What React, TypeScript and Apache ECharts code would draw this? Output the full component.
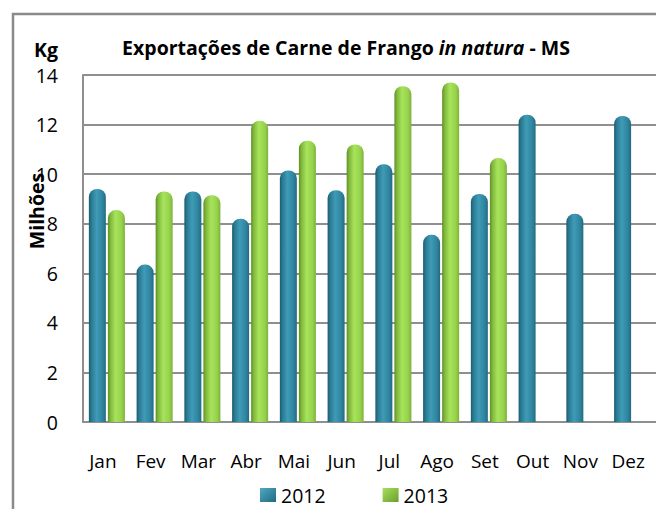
import React, { useEffect, useRef } from "react";
import * as echarts from "echarts";

const categories = ["Jan", "Fev", "Mar", "Abr", "Mai", "Jun", "Jul", "Ago", "Set", "Out", "Nov", "Dez"];
const values2012 = [9.4, 6.35, 9.3, 8.2, 10.15, 9.35, 10.4, 7.55, 9.2, 12.4, 8.4, 12.35];
const values2013: (number | null)[] = [8.55, 9.3, 9.15, 12.15, 11.35, 11.2, 13.55, 13.7, 10.65, null, null, null];
const yTicks = [0, 2, 4, 6, 8, 10, 12, 14];

const FONT = "'Open Sans', 'Noto Sans', sans-serif";

const tealGrad = new echarts.graphic.LinearGradient(0, 0, 1, 0, [
  { offset: 0, color: "#1b5b6f" },
  { offset: 0.15, color: "#2a7a93" },
  { offset: 0.45, color: "#3f9bb6" },
  { offset: 0.8, color: "#2f85a0" },
  { offset: 1, color: "#236a80" },
]);
const greenGrad = new echarts.graphic.LinearGradient(0, 0, 1, 0, [
  { offset: 0, color: "#5f8f25" },
  { offset: 0.15, color: "#80b83c" },
  { offset: 0.45, color: "#a8e35c" },
  { offset: 0.8, color: "#97d24c" },
  { offset: 1, color: "#7cb23a" },
]);
const tealIcon = new echarts.graphic.LinearGradient(0, 0, 1, 1, [
  { offset: 0, color: "#4fa9c4" },
  { offset: 1, color: "#1f6a80" },
]);
const greenIcon = new echarts.graphic.LinearGradient(0, 0, 1, 1, [
  { offset: 0, color: "#a6e05a" },
  { offset: 1, color: "#6b9e2e" },
]);

export default function App() {
  const ref = useRef<HTMLDivElement>(null);
  useEffect(() => {
    if (!ref.current) return;
    const chart = echarts.init(ref.current, null, { renderer: "svg" });
    chart.setOption({
      animation: false,
      backgroundColor: "#ffffff",
      textStyle: { fontFamily: FONT },
      grid: { left: 83, right: -2, top: 75, bottom: 87, containLabel: false },
      graphic: [
        {
          type: "rect",
          shape: { x: 13, y: 14, width: 700, height: 600 },
          style: { fill: "none", stroke: "#8a8a8a", lineWidth: 2.5 },
          z: -1,
        },
        {
          type: "text",
          x: 346,
          y: 47,
          style: {
            rich: {
              b: { fontFamily: FONT, fontSize: 19.5, fontWeight: "bold", fill: "#000" },
              i: { fontFamily: FONT, fontSize: 19.5, fontWeight: "bold", fontStyle: "italic", fill: "#000" },
            },
            text: "{b|Exportações de Carne de Frango }{i|in natura}{b| - MS}",
            align: "center",
            verticalAlign: "middle",
          },
        },
        {
          type: "text",
          x: 46,
          y: 49,
          style: { text: "Kg", fontFamily: FONT, fontSize: 19.5, fontWeight: "bold", fill: "#000", align: "center", verticalAlign: "middle" },
        },
        {
          type: "text",
          x: 36,
          y: 211,
          rotation: Math.PI / 2,
          style: { text: "Milhões", fontFamily: FONT, fontSize: 19.5, fontWeight: "bold", fill: "#000", align: "center", verticalAlign: "middle" },
        },
      ],
      legend: {
        data: [
          { name: "2012", itemStyle: { color: tealIcon } },
          { name: "2013", itemStyle: { color: greenIcon } },
        ],
        left: 260,
        top: 485,
        icon: "rect",
        itemWidth: 16,
        itemHeight: 14,
        itemGap: 57,
        padding: 0,
        textStyle: { fontFamily: FONT, fontSize: 19.5, lineHeight: 20, color: "#000" },
      },
      xAxis: {
        type: "category",
        data: categories,
        axisLine: { show: true, lineStyle: { color: "#8f8f8f", width: 2 } },
        axisTick: { show: false },
        axisLabel: { color: "#000", fontSize: 19, fontFamily: FONT, margin: 29, padding: [0, 8, 0, 0] },
      },
      yAxis: {
        type: "value",
        min: 0,
        max: 14,
        interval: 2,
        axisLine: { show: true, lineStyle: { color: "#8f8f8f", width: 2 } },
        axisTick: { show: false },
        splitLine: { show: true, lineStyle: { color: "#8f8f8f", width: 2 } },
        axisLabel: { color: "#000", fontSize: 19.5, fontFamily: FONT, margin: 25, formatter: (v: number) => (yTicks.includes(v) ? String(v) : "") },
      },
      series: [
        {
          name: "2012",
          type: "bar",
          data: values2012,
          barWidth: 17,
          barGap: "12%",
          itemStyle: { color: tealGrad, borderRadius: [8, 8, 0, 0] },
        },
        {
          name: "2013",
          type: "bar",
          data: values2013,
          barWidth: 17,
          itemStyle: { color: greenGrad, borderRadius: [8, 8, 0, 0] },
        },
      ],
    });
    return () => chart.dispose();
  }, []);
  return <div ref={ref} style={{ position: "fixed", left: 0, top: 0, width: 656, height: 509 }} />;
}
